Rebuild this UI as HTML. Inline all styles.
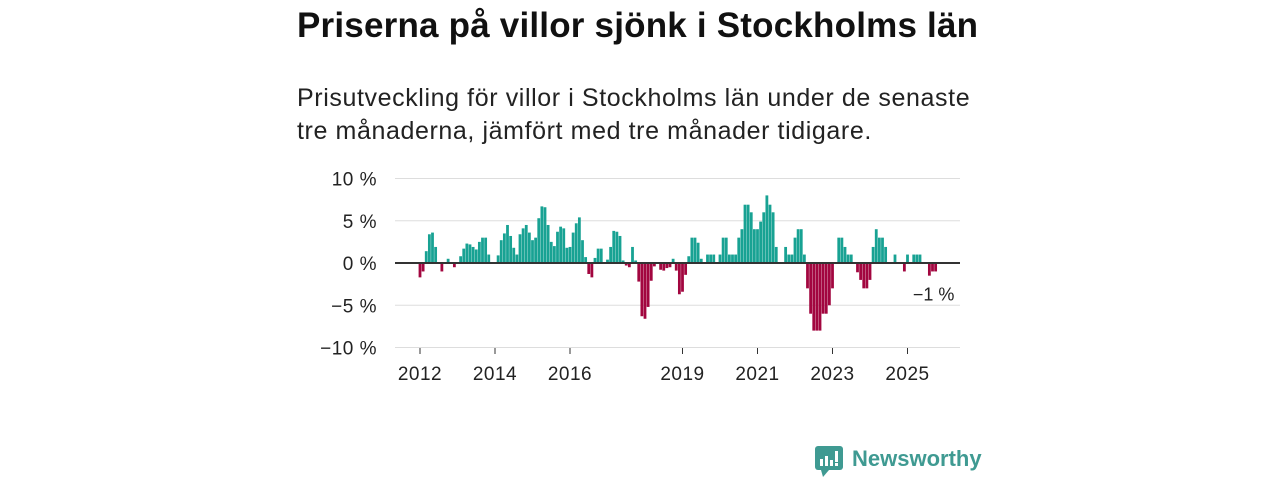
<!DOCTYPE html>
<html><head><meta charset="utf-8"><style>
body{margin:0;width:1280px;height:480px;background:#fff;font-family:"Liberation Sans","DejaVu Sans",sans-serif;overflow:hidden;position:relative}
#title{position:absolute;left:297px;top:6px;font-size:35px;font-weight:bold;color:#111;margin:0;white-space:nowrap;letter-spacing:0.2px}
#sub{position:absolute;left:297px;top:82px;font-size:25px;line-height:33px;color:#222;margin:0;width:760px;letter-spacing:0.6px}
svg{position:absolute;left:0;top:0}
</style></head><body>
<h1 id="title">Priserna på villor sjönk i Stockholms län</h1>
<p id="sub">Prisutveckling för villor i Stockholms län under de senaste<br>tre månaderna, jämfört med tre månader tidigare.</p>
<svg id="chart" width="1280" height="480"></svg>
<script>
const values=[-1.7,-1.0,1.4,3.4,3.6,1.9,0,-1.0,0,0.5,0,-0.5,0,0.8,1.7,2.3,2.2,1.9,1.6,2.5,3.0,3.0,1.0,0,0,0.9,2.7,3.5,4.5,3.2,1.8,1.0,3.4,4.1,4.5,3.6,2.7,3.0,5.3,6.7,6.6,4.5,2.5,2.0,3.7,4.3,4.1,1.8,1.9,3.6,4.7,5.4,2.7,0.7,-1.3,-1.7,0.6,1.7,1.7,0,0.4,1.9,3.8,3.7,3.2,0.3,-0.3,-0.5,1.9,0.3,-2.2,-6.3,-6.6,-5.2,-2.1,-0.4,0,-0.8,-0.9,-0.6,-0.5,0.5,-0.9,-3.7,-3.4,-1.4,0.8,3.0,3.0,2.4,0.5,0,1.0,1.0,1.0,0,1.0,3.0,3.0,1.0,1.0,1.0,3.0,4.0,6.9,6.9,6.0,4.0,4.0,4.9,6.0,8.0,6.9,6.0,1.9,0,0,1.9,1.0,1.0,3.0,4.0,4.0,1.0,-3,-6,-8,-8,-8,-6,-6,-5,-3,0,3.0,3.0,1.9,1.0,1.0,0,-1.1,-2.0,-3.0,-3.0,-2.0,1.9,4.0,3.0,3.0,1.9,0,0,1.0,0,0,-1.0,1.0,0,1.0,1.0,1.0,0,0,-1.5,-1.0,-1.0];
const startYear=2012;
const yTicks=[10,5,0,-5,-10];
const xTickYears=[2012,2014,2016,2019,2021,2023,2025];
const lastLabel="−1 %";
const svg=document.getElementById('chart');
const NS='http://www.w3.org/2000/svg';
const x=m=>420+m*3.125;
const y=v=>263-v*8.45;
function mk(t,a){const e=document.createElementNS(NS,t);for(const k in a)e.setAttribute(k,a[k]);svg.appendChild(e);return e;}
yTicks.forEach(t=>{
  const g=mk('line',{x1:395,x2:960,y1:y(t),y2:y(t),stroke:t===0?'#333':'#ddd','stroke-width':t===0?2:1});
  
  
  const l=mk('text',{x:377,y:y(t)+7,'text-anchor':'end','font-size':19,fill:'#222','font-family':'Liberation Sans, sans-serif','letter-spacing':'0.5'});
  l.textContent=(t<0?'−'+(-t):t)+' %';
  
  
});
values.forEach((v,i)=>{
  if(v===0)return;
  const r=mk('rect',{x:x(i)-1.4,width:2.8,y:v>0?y(v):263,height:Math.abs(y(v)-263),fill:v>0?'#18a293':'#a2063f'});
  
  
});
mk('line',{x1:395,x2:960,y1:263,y2:263,stroke:'#333','stroke-width':2});
xTickYears.forEach(yr=>{
  const m=(yr-startYear)*12;
  const tk=mk('line',{x1:x(m),x2:x(m),y1:348,y2:354,stroke:'#333','stroke-width':1});
  
  
  const l=mk('text',{x:x(m),y:380,'text-anchor':'middle','font-size':19,fill:'#222','font-family':'Liberation Sans, sans-serif','letter-spacing':'0.5'});
  l.textContent=yr;
  
  
});
const lv=values[values.length-1];
const lab=mk('text',{x:x(values.length-1)-2,y:y(lv)+29,'text-anchor':'middle','font-size':18,fill:'#222','font-family':'Liberation Sans, sans-serif'});
lab.textContent=lastLabel;


</script>
<div style="position:absolute;left:815px;top:446px;display:flex;align-items:center">
<svg width="28" height="32" viewBox="0 0 28 32" style="position:static"><rect x="0" y="0" width="28" height="24" rx="3" fill="#3f9a92"/><polygon points="6,24 14,24 8,31" fill="#3f9a92"/><rect x="5" y="13" width="3" height="7" fill="#fff"/><rect x="10" y="10" width="3" height="10" fill="#fff"/><rect x="15" y="14" width="3" height="6" fill="#fff"/><rect x="20" y="5" width="3" height="11" fill="#fff"/><rect x="20" y="17" width="3" height="3" fill="#fff"/></svg>
<span style="margin-left:9px;font-size:22px;color:#3f9a92;font-weight:bold;margin-top:-6px">Newsworthy</span></div>
</body></html>
